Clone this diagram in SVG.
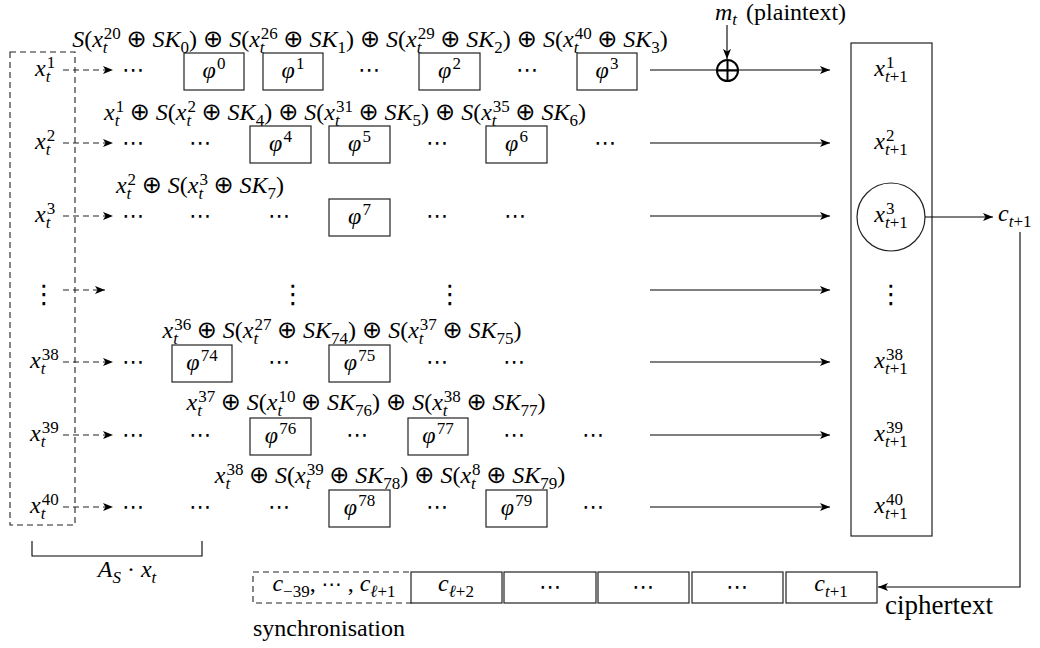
<svg xmlns="http://www.w3.org/2000/svg" width="1040" height="648" viewBox="0 0 1040 648">
<defs>
<marker id="ah" viewBox="0 0 10 8" markerWidth="10" markerHeight="8" refX="10" refY="4" orient="auto" markerUnits="userSpaceOnUse">
<path d="M0,0 L10,4 L0,8 L2.5,4 z" fill="#000"/>
</marker>
</defs>
<style>
.mbx{fill:#fff;stroke:#222;stroke-width:1.2}
.mln{fill:none;stroke:#000;stroke-width:1.1}
.mda{fill:none;stroke:#222;stroke-width:1.1;stroke-dasharray:6 4}
</style>
<rect width="1040" height="648" fill="#fff"/>

<g id="state-register" font-family="Liberation Serif, serif" font-size="24" fill="#000">
<rect class="mda" x="10" y="52" width="65" height="473"/>
<text x="35" y="76"><tspan font-style="italic">x</tspan><tspan font-size="17" dx="1" dy="-8">1</tspan><tspan font-size="17" font-style="italic" dx="-9.5" dy="14">t</tspan></text>
<text x="35" y="149"><tspan font-style="italic">x</tspan><tspan font-size="17" dx="1" dy="-8">2</tspan><tspan font-size="17" font-style="italic" dx="-9.5" dy="14">t</tspan></text>
<text x="35" y="222"><tspan font-style="italic">x</tspan><tspan font-size="17" dx="1" dy="-8">3</tspan><tspan font-size="17" font-style="italic" dx="-9.5" dy="14">t</tspan></text>
<text x="44" y="303" font-family="DejaVu Sans" font-size="26" text-anchor="middle">⋮</text>
<text x="30" y="368"><tspan font-style="italic">x</tspan><tspan font-size="17" dx="1" dy="-8">38</tspan><tspan font-size="17" font-style="italic" dx="-18" dy="14">t</tspan></text>
<text x="30" y="441"><tspan font-style="italic">x</tspan><tspan font-size="17" dx="1" dy="-8">39</tspan><tspan font-size="17" font-style="italic" dx="-18" dy="14">t</tspan></text>
<text x="30" y="513"><tspan font-style="italic">x</tspan><tspan font-size="17" dx="1" dy="-8">40</tspan><tspan font-size="17" font-style="italic" dx="-18" dy="14">t</tspan></text>
</g>

<g id="linear-bracket" font-family="Liberation Serif, serif" font-size="24" fill="#000">
<path class="mln" d="M32,541 V556 H202 V541"/>
<text x="127" y="577" text-anchor="middle"><tspan font-style="italic">A</tspan><tspan font-size="17" font-style="italic" dy="6">S</tspan><tspan dy="-6"> · </tspan><tspan font-style="italic">x</tspan><tspan font-size="17" font-style="italic" dy="6">t</tspan></text>
</g>

<g id="row1" font-family="Liberation Serif, serif" font-size="24" fill="#000">
<text x="370" y="47" text-anchor="middle"><tspan font-style="italic">S</tspan>(<tspan font-style="italic">x</tspan><tspan font-size="17" dx="1" dy="-8">20</tspan><tspan font-size="17" font-style="italic" dx="-18" dy="14">t</tspan><tspan font-family="DejaVu Sans" dx="18.8" dy="-6">⊕</tspan> <tspan font-style="italic">SK</tspan><tspan font-size="17" dy="6">0</tspan><tspan dy="-6">)</tspan> <tspan font-family="DejaVu Sans">⊕</tspan> <tspan font-style="italic">S</tspan>(<tspan font-style="italic">x</tspan><tspan font-size="17" dx="1" dy="-8">26</tspan><tspan font-size="17" font-style="italic" dx="-18" dy="14">t</tspan><tspan font-family="DejaVu Sans" dx="18.8" dy="-6">⊕</tspan> <tspan font-style="italic">SK</tspan><tspan font-size="17" dy="6">1</tspan><tspan dy="-6">)</tspan> <tspan font-family="DejaVu Sans">⊕</tspan> <tspan font-style="italic">S</tspan>(<tspan font-style="italic">x</tspan><tspan font-size="17" dx="1" dy="-8">29</tspan><tspan font-size="17" font-style="italic" dx="-18" dy="14">t</tspan><tspan font-family="DejaVu Sans" dx="18.8" dy="-6">⊕</tspan> <tspan font-style="italic">SK</tspan><tspan font-size="17" dy="6">2</tspan><tspan dy="-6">)</tspan> <tspan font-family="DejaVu Sans">⊕</tspan> <tspan font-style="italic">S</tspan>(<tspan font-style="italic">x</tspan><tspan font-size="17" dx="1" dy="-8">40</tspan><tspan font-size="17" font-style="italic" dx="-18" dy="14">t</tspan><tspan font-family="DejaVu Sans" dx="18.8" dy="-6">⊕</tspan> <tspan font-style="italic">SK</tspan><tspan font-size="17" dy="6">3</tspan><tspan dy="-6">)</tspan></text>
<text x="133" y="77" font-family="DejaVu Sans" font-size="22" text-anchor="middle">⋯</text>
<g id="phi0"><rect class="mbx" x="184" y="53" width="60" height="37"/><text x="214" y="78" text-anchor="middle"><tspan font-style="italic">φ</tspan><tspan font-size="17" dx="1" dy="-9">0</tspan></text></g>
<g id="phi1"><rect class="mbx" x="263" y="53" width="60" height="37"/><text x="293" y="78" text-anchor="middle"><tspan font-style="italic">φ</tspan><tspan font-size="17" dx="1" dy="-9">1</tspan></text></g>
<text x="369" y="77" font-family="DejaVu Sans" font-size="22" text-anchor="middle">⋯</text>
<g id="phi2"><rect class="mbx" x="419" y="53" width="61" height="37"/><text x="449.5" y="78" text-anchor="middle"><tspan font-style="italic">φ</tspan><tspan font-size="17" dx="1" dy="-9">2</tspan></text></g>
<text x="527" y="77" font-family="DejaVu Sans" font-size="22" text-anchor="middle">⋯</text>
<g id="phi3"><rect class="mbx" x="577" y="53" width="60" height="37"/><text x="607" y="78" text-anchor="middle"><tspan font-style="italic">φ</tspan><tspan font-size="17" dx="1" dy="-9">3</tspan></text></g>
</g>

<g id="row2" font-family="Liberation Serif, serif" font-size="24" fill="#000">
<text x="345" y="120" text-anchor="middle"><tspan font-style="italic">x</tspan><tspan font-size="17" dx="1" dy="-8">1</tspan><tspan font-size="17" font-style="italic" dx="-9.5" dy="14">t</tspan><tspan font-family="DejaVu Sans" dx="10.3" dy="-6">⊕</tspan> <tspan font-style="italic">S</tspan>(<tspan font-style="italic">x</tspan><tspan font-size="17" dx="1" dy="-8">2</tspan><tspan font-size="17" font-style="italic" dx="-9.5" dy="14">t</tspan><tspan font-family="DejaVu Sans" dx="10.3" dy="-6">⊕</tspan> <tspan font-style="italic">SK</tspan><tspan font-size="17" dy="6">4</tspan><tspan dy="-6">)</tspan> <tspan font-family="DejaVu Sans">⊕</tspan> <tspan font-style="italic">S</tspan>(<tspan font-style="italic">x</tspan><tspan font-size="17" dx="1" dy="-8">31</tspan><tspan font-size="17" font-style="italic" dx="-18" dy="14">t</tspan><tspan font-family="DejaVu Sans" dx="18.8" dy="-6">⊕</tspan> <tspan font-style="italic">SK</tspan><tspan font-size="17" dy="6">5</tspan><tspan dy="-6">)</tspan> <tspan font-family="DejaVu Sans">⊕</tspan> <tspan font-style="italic">S</tspan>(<tspan font-style="italic">x</tspan><tspan font-size="17" dx="1" dy="-8">35</tspan><tspan font-size="17" font-style="italic" dx="-18" dy="14">t</tspan><tspan font-family="DejaVu Sans" dx="18.8" dy="-6">⊕</tspan> <tspan font-style="italic">SK</tspan><tspan font-size="17" dy="6">6</tspan><tspan dy="-6">)</tspan></text>
<text x="133" y="150" font-family="DejaVu Sans" font-size="22" text-anchor="middle">⋯</text>
<text x="200" y="150" font-family="DejaVu Sans" font-size="22" text-anchor="middle">⋯</text>
<g id="phi4"><rect class="mbx" x="250" y="126" width="61" height="37"/><text x="280.5" y="151" text-anchor="middle"><tspan font-style="italic">φ</tspan><tspan font-size="17" dx="1" dy="-9">4</tspan></text></g>
<g id="phi5"><rect class="mbx" x="329" y="126" width="61" height="37"/><text x="359.5" y="151" text-anchor="middle"><tspan font-style="italic">φ</tspan><tspan font-size="17" dx="1" dy="-9">5</tspan></text></g>
<text x="437" y="150" font-family="DejaVu Sans" font-size="22" text-anchor="middle">⋯</text>
<g id="phi6"><rect class="mbx" x="486" y="126" width="61" height="37"/><text x="516.5" y="151" text-anchor="middle"><tspan font-style="italic">φ</tspan><tspan font-size="17" dx="1" dy="-9">6</tspan></text></g>
<text x="605" y="150" font-family="DejaVu Sans" font-size="22" text-anchor="middle">⋯</text>
</g>

<g id="row3" font-family="Liberation Serif, serif" font-size="24" fill="#000">
<text x="200" y="193" text-anchor="middle"><tspan font-style="italic">x</tspan><tspan font-size="17" dx="1" dy="-8">2</tspan><tspan font-size="17" font-style="italic" dx="-9.5" dy="14">t</tspan><tspan font-family="DejaVu Sans" dx="10.3" dy="-6">⊕</tspan> <tspan font-style="italic">S</tspan>(<tspan font-style="italic">x</tspan><tspan font-size="17" dx="1" dy="-8">3</tspan><tspan font-size="17" font-style="italic" dx="-9.5" dy="14">t</tspan><tspan font-family="DejaVu Sans" dx="10.3" dy="-6">⊕</tspan> <tspan font-style="italic">SK</tspan><tspan font-size="17" dy="6">7</tspan><tspan dy="-6">)</tspan></text>
<text x="133" y="223" font-family="DejaVu Sans" font-size="22" text-anchor="middle">⋯</text>
<text x="200" y="223" font-family="DejaVu Sans" font-size="22" text-anchor="middle">⋯</text>
<text x="279" y="223" font-family="DejaVu Sans" font-size="22" text-anchor="middle">⋯</text>
<g id="phi7"><rect class="mbx" x="329" y="199" width="61" height="37"/><text x="359.5" y="224" text-anchor="middle"><tspan font-style="italic">φ</tspan><tspan font-size="17" dx="1" dy="-9">7</tspan></text></g>
<text x="437" y="223" font-family="DejaVu Sans" font-size="22" text-anchor="middle">⋯</text>
<text x="515" y="223" font-family="DejaVu Sans" font-size="22" text-anchor="middle">⋯</text>
</g>

<g id="row-dots" font-family="DejaVu Sans" font-size="26" fill="#000">
<text x="293" y="303" text-anchor="middle">⋮</text>
<text x="450" y="303" text-anchor="middle">⋮</text>
</g>

<g id="row38" font-family="Liberation Serif, serif" font-size="24" fill="#000">
<text x="342" y="338" text-anchor="middle"><tspan font-style="italic">x</tspan><tspan font-size="17" dx="1" dy="-8">36</tspan><tspan font-size="17" font-style="italic" dx="-18" dy="14">t</tspan><tspan font-family="DejaVu Sans" dx="18.8" dy="-6">⊕</tspan> <tspan font-style="italic">S</tspan>(<tspan font-style="italic">x</tspan><tspan font-size="17" dx="1" dy="-8">27</tspan><tspan font-size="17" font-style="italic" dx="-18" dy="14">t</tspan><tspan font-family="DejaVu Sans" dx="18.8" dy="-6">⊕</tspan> <tspan font-style="italic">SK</tspan><tspan font-size="17" dy="6">74</tspan><tspan dy="-6">)</tspan> <tspan font-family="DejaVu Sans">⊕</tspan> <tspan font-style="italic">S</tspan>(<tspan font-style="italic">x</tspan><tspan font-size="17" dx="1" dy="-8">37</tspan><tspan font-size="17" font-style="italic" dx="-18" dy="14">t</tspan><tspan font-family="DejaVu Sans" dx="18.8" dy="-6">⊕</tspan> <tspan font-style="italic">SK</tspan><tspan font-size="17" dy="6">75</tspan><tspan dy="-6">)</tspan></text>
<text x="133" y="369" font-family="DejaVu Sans" font-size="22" text-anchor="middle">⋯</text>
<g id="phi74"><rect class="mbx" x="172" y="345" width="60" height="37"/><text x="202" y="370" text-anchor="middle"><tspan font-style="italic">φ</tspan><tspan font-size="17" dx="1" dy="-9">74</tspan></text></g>
<text x="279" y="369" font-family="DejaVu Sans" font-size="22" text-anchor="middle">⋯</text>
<g id="phi75"><rect class="mbx" x="329" y="345" width="61" height="37"/><text x="359.5" y="370" text-anchor="middle"><tspan font-style="italic">φ</tspan><tspan font-size="17" dx="1" dy="-9">75</tspan></text></g>
<text x="437" y="369" font-family="DejaVu Sans" font-size="22" text-anchor="middle">⋯</text>
<text x="514" y="369" font-family="DejaVu Sans" font-size="22" text-anchor="middle">⋯</text>
</g>

<g id="row39" font-family="Liberation Serif, serif" font-size="24" fill="#000">
<text x="366" y="410" text-anchor="middle"><tspan font-style="italic">x</tspan><tspan font-size="17" dx="1" dy="-8">37</tspan><tspan font-size="17" font-style="italic" dx="-18" dy="14">t</tspan><tspan font-family="DejaVu Sans" dx="18.8" dy="-6">⊕</tspan> <tspan font-style="italic">S</tspan>(<tspan font-style="italic">x</tspan><tspan font-size="17" dx="1" dy="-8">10</tspan><tspan font-size="17" font-style="italic" dx="-18" dy="14">t</tspan><tspan font-family="DejaVu Sans" dx="18.8" dy="-6">⊕</tspan> <tspan font-style="italic">SK</tspan><tspan font-size="17" dy="6">76</tspan><tspan dy="-6">)</tspan> <tspan font-family="DejaVu Sans">⊕</tspan> <tspan font-style="italic">S</tspan>(<tspan font-style="italic">x</tspan><tspan font-size="17" dx="1" dy="-8">38</tspan><tspan font-size="17" font-style="italic" dx="-18" dy="14">t</tspan><tspan font-family="DejaVu Sans" dx="18.8" dy="-6">⊕</tspan> <tspan font-style="italic">SK</tspan><tspan font-size="17" dy="6">77</tspan><tspan dy="-6">)</tspan></text>
<text x="133" y="442" font-family="DejaVu Sans" font-size="22" text-anchor="middle">⋯</text>
<text x="200" y="442" font-family="DejaVu Sans" font-size="22" text-anchor="middle">⋯</text>
<g id="phi76"><rect class="mbx" x="250" y="418" width="61" height="37"/><text x="280.5" y="443" text-anchor="middle"><tspan font-style="italic">φ</tspan><tspan font-size="17" dx="1" dy="-9">76</tspan></text></g>
<text x="357" y="442" font-family="DejaVu Sans" font-size="22" text-anchor="middle">⋯</text>
<g id="phi77"><rect class="mbx" x="408" y="418" width="60" height="37"/><text x="438" y="443" text-anchor="middle"><tspan font-style="italic">φ</tspan><tspan font-size="17" dx="1" dy="-9">77</tspan></text></g>
<text x="514" y="442" font-family="DejaVu Sans" font-size="22" text-anchor="middle">⋯</text>
<text x="593" y="442" font-family="DejaVu Sans" font-size="22" text-anchor="middle">⋯</text>
</g>

<g id="row40" font-family="Liberation Serif, serif" font-size="24" fill="#000">
<text x="390" y="483" text-anchor="middle"><tspan font-style="italic">x</tspan><tspan font-size="17" dx="1" dy="-8">38</tspan><tspan font-size="17" font-style="italic" dx="-18" dy="14">t</tspan><tspan font-family="DejaVu Sans" dx="18.8" dy="-6">⊕</tspan> <tspan font-style="italic">S</tspan>(<tspan font-style="italic">x</tspan><tspan font-size="17" dx="1" dy="-8">39</tspan><tspan font-size="17" font-style="italic" dx="-18" dy="14">t</tspan><tspan font-family="DejaVu Sans" dx="18.8" dy="-6">⊕</tspan> <tspan font-style="italic">SK</tspan><tspan font-size="17" dy="6">78</tspan><tspan dy="-6">)</tspan> <tspan font-family="DejaVu Sans">⊕</tspan> <tspan font-style="italic">S</tspan>(<tspan font-style="italic">x</tspan><tspan font-size="17" dx="1" dy="-8">8</tspan><tspan font-size="17" font-style="italic" dx="-9.5" dy="14">t</tspan><tspan font-family="DejaVu Sans" dx="10.3" dy="-6">⊕</tspan> <tspan font-style="italic">SK</tspan><tspan font-size="17" dy="6">79</tspan><tspan dy="-6">)</tspan></text>
<text x="133" y="514" font-family="DejaVu Sans" font-size="22" text-anchor="middle">⋯</text>
<text x="200" y="514" font-family="DejaVu Sans" font-size="22" text-anchor="middle">⋯</text>
<text x="279" y="514" font-family="DejaVu Sans" font-size="22" text-anchor="middle">⋯</text>
<g id="phi78"><rect class="mbx" x="329" y="490" width="61" height="37"/><text x="359.5" y="515" text-anchor="middle"><tspan font-style="italic">φ</tspan><tspan font-size="17" dx="1" dy="-9">78</tspan></text></g>
<text x="437" y="514" font-family="DejaVu Sans" font-size="22" text-anchor="middle">⋯</text>
<g id="phi79"><rect class="mbx" x="486" y="490" width="61" height="37"/><text x="516.5" y="515" text-anchor="middle"><tspan font-style="italic">φ</tspan><tspan font-size="17" dx="1" dy="-9">79</tspan></text></g>
<text x="593" y="514" font-family="DejaVu Sans" font-size="22" text-anchor="middle">⋯</text>
</g>

<g id="plaintext" font-family="Liberation Serif, serif" font-size="24" fill="#000">
<text x="715" y="20"><tspan font-style="italic">m</tspan><tspan font-size="17" font-style="italic" dy="5">t</tspan><tspan dx="9" dy="-5">(plaintext)</tspan></text>
</g>

<g id="next-state" font-family="Liberation Serif, serif" font-size="24" fill="#000">
<rect x="851" y="43" width="81" height="493" fill="none" stroke="#222" stroke-width="1.2"/>
<text x="891" y="76" text-anchor="middle"><tspan font-style="italic">x</tspan><tspan font-size="17" dx="1" dy="-8">1</tspan><tspan font-size="17" font-style="italic" dx="-9.5" dy="14">t</tspan><tspan font-size="17">+1</tspan></text>
<text x="891" y="149" text-anchor="middle"><tspan font-style="italic">x</tspan><tspan font-size="17" dx="1" dy="-8">2</tspan><tspan font-size="17" font-style="italic" dx="-9.5" dy="14">t</tspan><tspan font-size="17">+1</tspan></text>
<circle cx="891" cy="217" r="34" fill="none" stroke="#222" stroke-width="1.2"/>
<text x="891" y="222" text-anchor="middle"><tspan font-style="italic">x</tspan><tspan font-size="17" dx="1" dy="-8">3</tspan><tspan font-size="17" font-style="italic" dx="-9.5" dy="14">t</tspan><tspan font-size="17">+1</tspan></text>
<text x="891" y="303" font-family="DejaVu Sans" font-size="26" text-anchor="middle">⋮</text>
<text x="891" y="368" text-anchor="middle"><tspan font-style="italic">x</tspan><tspan font-size="17" dx="1" dy="-8">38</tspan><tspan font-size="17" font-style="italic" dx="-18" dy="14">t</tspan><tspan font-size="17">+1</tspan></text>
<text x="891" y="441" text-anchor="middle"><tspan font-style="italic">x</tspan><tspan font-size="17" dx="1" dy="-8">39</tspan><tspan font-size="17" font-style="italic" dx="-18" dy="14">t</tspan><tspan font-size="17">+1</tspan></text>
<text x="891" y="513" text-anchor="middle"><tspan font-style="italic">x</tspan><tspan font-size="17" dx="1" dy="-8">40</tspan><tspan font-size="17" font-style="italic" dx="-18" dy="14">t</tspan><tspan font-size="17">+1</tspan></text>
</g>

<g id="output" font-family="Liberation Serif, serif" font-size="24" fill="#000">
<text x="998" y="221"><tspan font-style="italic">c</tspan><tspan font-size="17" font-style="italic" dy="6">t</tspan><tspan font-size="17">+1</tspan></text>
</g>

<g id="ciphertext-register" font-family="Liberation Serif, serif" font-size="24" fill="#000">
<rect class="mda" x="253" y="572" width="159" height="31"/>
<text x="334" y="591" text-anchor="middle"><tspan font-style="italic">c</tspan><tspan font-size="17" dy="6">−39</tspan><tspan dy="-6">, </tspan><tspan font-family="DejaVu Sans" font-size="20">⋯</tspan> , <tspan font-style="italic">c</tspan><tspan font-size="17" font-style="italic" dy="6">ℓ</tspan><tspan font-size="17">+1</tspan></text>
<rect class="mbx" x="411" y="572" width="91" height="31"/>
<text x="456" y="591" text-anchor="middle"><tspan font-style="italic">c</tspan><tspan font-size="17" font-style="italic" dy="6">ℓ</tspan><tspan font-size="17">+2</tspan></text>
<rect class="mbx" x="504" y="572" width="92" height="31"/>
<text x="550" y="594" font-family="DejaVu Sans" font-size="22" text-anchor="middle">⋯</text>
<rect class="mbx" x="598" y="572" width="91" height="31"/>
<text x="643" y="594" font-family="DejaVu Sans" font-size="22" text-anchor="middle">⋯</text>
<rect class="mbx" x="692" y="572" width="91" height="31"/>
<text x="737" y="594" font-family="DejaVu Sans" font-size="22" text-anchor="middle">⋯</text>
<rect class="mbx" x="786" y="572" width="91" height="31"/>
<text x="831" y="591" text-anchor="middle"><tspan font-style="italic">c</tspan><tspan font-size="17" font-style="italic" dy="6">t</tspan><tspan font-size="17">+1</tspan></text>
<text x="885" y="614" font-size="27">ciphertext</text>
<text x="253" y="636">synchronisation</text>
</g>

<g id="connectors">
<path class="mda" d="M63,70 H113" marker-end="url(#ah)"/>
<path class="mda" d="M63,143 H113" marker-end="url(#ah)"/>
<path class="mda" d="M63,216 H113" marker-end="url(#ah)"/>
<path class="mda" d="M63,290 H105" marker-end="url(#ah)"/>
<path class="mda" d="M63,362 H113" marker-end="url(#ah)"/>
<path class="mda" d="M63,435 H113" marker-end="url(#ah)"/>
<path class="mda" d="M63,507 H113" marker-end="url(#ah)"/>
<path class="mln" d="M650,70 H830" marker-end="url(#ah)"/>
<path class="mln" d="M650,143 H830" marker-end="url(#ah)"/>
<path class="mln" d="M650,216 H830" marker-end="url(#ah)"/>
<path class="mln" d="M650,290 H830" marker-end="url(#ah)"/>
<path class="mln" d="M650,362 H830" marker-end="url(#ah)"/>
<path class="mln" d="M650,435 H830" marker-end="url(#ah)"/>
<path class="mln" d="M650,507 H830" marker-end="url(#ah)"/>
<path class="mln" d="M727,25 V59" marker-end="url(#ah)"/>
<g id="xor">
<circle cx="727.5" cy="70.5" r="10.5" fill="none" stroke="#000" stroke-width="2"/>
<path d="M727.5,60 V81 M717,70.5 H738" stroke="#000" stroke-width="2" fill="none"/>
</g>
<path class="mln" d="M925,217 H993" marker-end="url(#ah)"/>
<path class="mln" d="M1020,232 V587 H878" marker-end="url(#ah)"/>
</g>
</svg>
